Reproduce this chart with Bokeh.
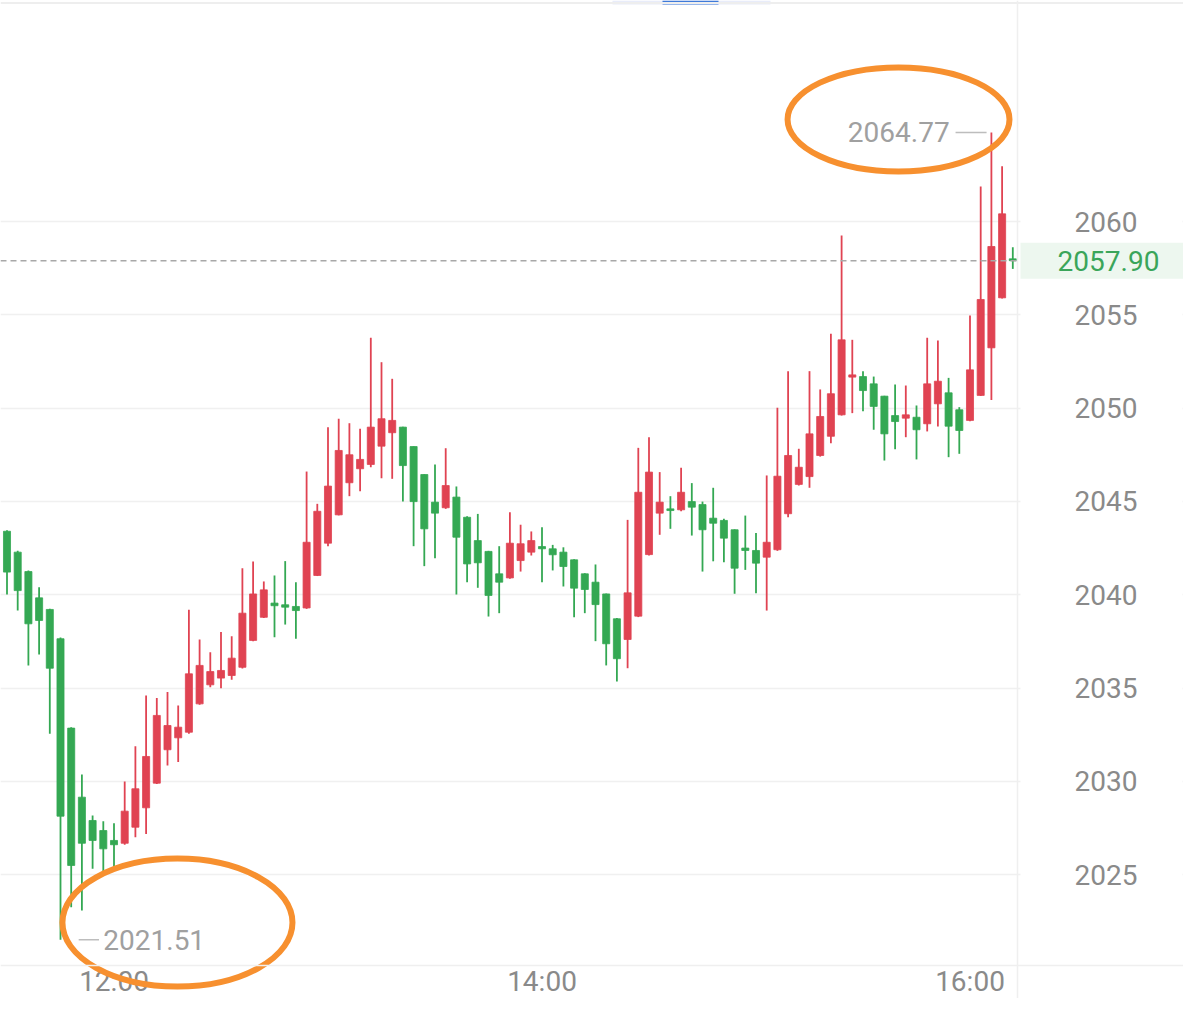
import numpy as np
import pandas as pd
from bokeh.plotting import figure
from bokeh.models import ColumnDataSource, Range1d, FixedTicker, Span
from bokeh.core.properties import value
from bokeh.embed import file_html
from bokeh.resources import INLINE

# ---- data (3-minute candles, 11:30 - 16:12) ----
times = [t.strftime("%H:%M") for t in pd.date_range("2024-01-01 11:30", periods=95, freq="3min")]

opens = [2043.40, 2042.28, 2041.24, 2039.83, 2039.21, 2037.64, 2032.85, 2029.15, 2027.90, 2027.36,
         2026.83, 2026.68, 2027.54, 2028.58, 2029.90, 2031.69, 2032.33, 2032.63, 2034.15, 2035.17,
         2035.53, 2035.67, 2036.11, 2037.55, 2038.79, 2039.55, 2039.46, 2039.37, 2039.29, 2041.03,
         2042.76, 2044.28, 2046.00, 2046.75, 2046.98, 2047.96, 2048.68, 2048.98, 2047.94, 2046.44,
         2044.96, 2044.66, 2045.23, 2044.15, 2042.90, 2042.32, 2041.12, 2040.90, 2041.83, 2042.28,
         2042.58, 2042.46, 2042.28, 2041.87, 2041.12, 2040.67, 2040.04, 2038.71, 2037.60, 2038.85,
         2042.15, 2044.37, 2044.60, 2044.55, 2044.99, 2044.83, 2044.10, 2043.98, 2043.48, 2042.50,
         2042.37, 2042.01, 2042.41, 2044.34, 2045.91, 2046.33, 2047.46, 2048.49, 2049.64, 2051.66,
         2051.69, 2051.30, 2050.64, 2049.60, 2049.46, 2049.51, 2049.16, 2050.23, 2050.82, 2049.91,
         2049.34, 2050.68, 2053.23, 2055.91, 2058.00]
closes = [2041.21, 2040.22, 2038.44, 2038.62, 2036.06, 2028.13, 2025.49, 2026.68, 2026.83, 2026.38,
          2026.60, 2028.40, 2029.60, 2031.33, 2033.53, 2032.99, 2032.90, 2035.76, 2036.21, 2035.88,
          2035.94, 2036.60, 2039.01, 2040.04, 2040.26, 2039.41, 2039.33, 2039.15, 2042.81, 2044.47,
          2045.82, 2047.73, 2047.50, 2047.25, 2048.98, 2049.43, 2049.34, 2046.92, 2044.99, 2043.53,
          2044.37, 2045.85, 2043.08, 2041.65, 2041.71, 2039.96, 2040.67, 2042.76, 2042.73, 2042.90,
          2042.46, 2042.14, 2041.51, 2040.35, 2040.28, 2039.47, 2037.37, 2036.57, 2040.10, 2045.49,
          2046.57, 2044.96, 2044.51, 2045.49, 2044.69, 2043.48, 2043.83, 2043.03, 2041.42, 2042.37,
          2041.69, 2042.81, 2046.35, 2047.46, 2046.83, 2048.62, 2049.55, 2050.77, 2053.66, 2051.78,
          2050.94, 2050.09, 2048.62, 2049.28, 2049.64, 2048.84, 2051.30, 2051.44, 2049.03, 2048.80,
          2052.05, 2055.82, 2058.66, 2060.41, 2057.90]
highs = [2043.45, 2042.35, 2041.30, 2040.40, 2039.25, 2037.70, 2032.90, 2030.37, 2028.17, 2027.86,
         2027.75, 2029.99, 2031.88, 2034.60, 2034.47, 2034.78, 2034.06, 2039.19, 2037.60, 2036.92,
         2038.00, 2037.78, 2041.42, 2041.78, 2040.71, 2041.03, 2041.80, 2040.67, 2046.60, 2044.87,
         2048.98, 2049.43, 2049.19, 2048.89, 2053.77, 2052.46, 2051.57, 2049.00, 2047.95, 2046.45,
         2046.98, 2047.85, 2045.80, 2044.20, 2044.33, 2042.35, 2042.60, 2044.42, 2043.75, 2043.39,
         2043.62, 2042.67, 2042.54, 2041.90, 2041.15, 2041.62, 2040.06, 2038.75, 2044.01, 2047.87,
         2048.44, 2046.57, 2045.28, 2046.80, 2045.98, 2044.99, 2045.73, 2044.07, 2043.50, 2044.24,
         2043.30, 2046.39, 2050.02, 2051.98, 2047.82, 2051.98, 2051.00, 2053.98, 2059.25, 2053.66,
         2051.98, 2051.69, 2050.66, 2051.26, 2051.21, 2050.14, 2053.77, 2053.62, 2051.62, 2050.05,
         2054.96, 2061.88, 2064.77, 2062.96, 2058.62]
lows = [2040.01, 2039.15, 2036.21, 2036.80, 2032.55, 2021.51, 2023.25, 2023.08, 2025.31, 2025.04,
        2025.40, 2026.60, 2027.00, 2027.18, 2029.85, 2030.85, 2031.03, 2032.55, 2034.10, 2035.04,
        2034.99, 2035.44, 2036.05, 2037.50, 2038.75, 2037.72, 2038.40, 2037.64, 2039.24, 2041.00,
        2042.60, 2044.25, 2045.28, 2045.55, 2046.83, 2046.24, 2046.21, 2044.99, 2042.60, 2041.53,
        2041.96, 2044.60, 2040.01, 2040.67, 2040.37, 2038.83, 2039.01, 2040.85, 2041.24, 2042.10,
        2040.67, 2041.30, 2040.44, 2038.79, 2039.01, 2037.51, 2036.21, 2035.35, 2036.06, 2038.80,
        2042.10, 2043.21, 2043.53, 2044.47, 2043.17, 2041.24, 2041.79, 2041.74, 2040.05, 2041.33,
        2040.08, 2039.15, 2042.35, 2044.15, 2045.85, 2045.73, 2047.40, 2048.12, 2049.60, 2049.73,
        2049.83, 2048.84, 2047.19, 2047.80, 2048.44, 2047.25, 2048.75, 2049.01, 2047.37, 2047.55,
        2049.30, 2050.65, 2050.44, 2055.88, 2057.46]

y_ticks = [2025, 2030, 2035, 2040, 2045, 2050, 2055, 2060]
x_tick_labels = ["12:00", "14:00", "16:00"]
last_price = closes[-1]

# ---- styling / layout ----
RED = "#e04352"
GREEN = "#34a853"
GRAY_TXT = "#8a8a8a"
FONT = value("Roboto")
W, H = 1183, 998
PX_PER_BAR = 10.7          # horizontal scale (px per candle)
PX_PER_UNIT = 18.66        # vertical scale (px per price unit)
X0_PX = 113.5 - 10 * PX_PER_BAR   # pixel of candle index 0
Y2060_PX = 221.0           # pixel of price 2060

def xd(px):   # screen x -> data x
    return (px - X0_PX) / PX_PER_BAR

def yd(py):   # screen y -> data y
    return 2060 - (py - Y2060_PX) / PX_PER_UNIT

n = len(times)
idx = np.arange(n)
o = np.array(opens); c = np.array(closes); h = np.array(highs); l = np.array(lows)
up = c >= o
colors = [RED if u else GREEN for u in up]
src = ColumnDataSource(dict(x=idx, top=np.maximum(o, c), bottom=np.minimum(o, c),
                            high=h, low=l, color=colors))

p = figure(width=W, height=H, output_backend="svg", toolbar_location=None,
           x_range=Range1d(xd(0), xd(W)), y_range=Range1d(yd(H), yd(0)),
           x_axis_location=None, y_axis_location=None,
           min_border_left=0, min_border_top=0, min_border_right=0, min_border_bottom=0)
p.outline_line_color = None
p.background_fill_color = "white"
p.border_fill_color = "white"

# grid (horizontal only)
p.xgrid.visible = False
p.ygrid.ticker = FixedTicker(ticks=y_ticks)
p.ygrid.grid_line_color = "#f0f0f0"
p.ygrid.grid_line_width = 1.5

# frame lines: top strip, axis separator, bottom axis line
p.add_layout(Span(location=yd(2.5), dimension="width", line_color="#eeeeee", line_width=2))
p.add_layout(Span(location=xd(1017), dimension="height", line_color="#efefef", line_width=1.5))
p.add_layout(Span(location=yd(965), dimension="width", line_color="#efefef", line_width=1.5))
p.quad(left=[xd(612)], right=[xd(770)], top=[yd(0)], bottom=[yd(4)],
       fill_color="#e8ecfa", line_color=None)
p.quad(left=[xd(662)], right=[xd(718)], top=[yd(0)], bottom=[yd(4)],
       fill_color="#3f7ad9", line_color=None)

# candles
p.segment(x0="x", y0="low", x1="x", y1="high", color="color", line_width=1.8, source=src)
p.vbar(x="x", top="top", bottom="bottom", width=0.66, fill_color="color",
       line_color="color", line_width=0.8, source=src)

# y tick labels (right side) on white boxes
p.rect(x=[xd(1101)] * len(y_ticks), y=y_ticks, width=162, height=30,
       width_units="screen", height_units="screen", fill_color="white", line_color=None)
p.text(x=[xd(1074)] * len(y_ticks), y=y_ticks, text=[str(t) for t in y_ticks],
       text_align="left", text_baseline="middle", text_font=FONT,
       text_font_size="28px", text_color=GRAY_TXT)

# time labels (bottom)
tick_pos = [times.index(t) for t in x_tick_labels]
p.text(x=tick_pos, y=[yd(981)] * len(tick_pos), text=x_tick_labels,
       text_align="center", text_baseline="middle", text_font=FONT,
       text_font_size="28px", text_color=GRAY_TXT)

# last price dashed line and label
p.segment(x0=[xd(0)], y0=[last_price], x1=[xd(1020)], y1=[last_price],
          line_color="#a8a8a8", line_dash="6 4", line_width=1.5)
p.rect(x=[xd(1110)], y=[last_price], width=180, height=36,
       width_units="screen", height_units="screen", fill_color="#edf7ef", line_color=None)
p.text(x=[xd(1108)], y=[last_price], text=[f"{last_price:.2f}"], text_align="center",
       text_baseline="middle", text_font=FONT, text_font_size="28px", text_color="#3aa55a")

# max / min markers
imax = int(np.argmax(h)); imin = int(np.argmin(l))
p.segment(x0=[imax - 3.35], y0=[h[imax]], x1=[imax - 0.45], y1=[h[imax]],
          line_color="#bdbdbd", line_width=1.5)
p.text(x=[imax - 3.9], y=[h[imax]], text=[f"{h[imax]:.2f}"], text_align="right",
       text_baseline="middle", text_font=FONT, text_font_size="28px",
       text_color="#a0a0a0")
p.segment(x0=[imin + 1.7], y0=[l[imin]], x1=[imin + 3.6], y1=[l[imin]],
          line_color="#bdbdbd", line_width=1.5)
p.text(x=[imin + 4.0], y=[l[imin]], text=[f"{l[imin]:.2f}"], text_align="left",
       text_baseline="middle", text_font=FONT, text_font_size="28px",
       text_color="#a0a0a0")

# orange hand-drawn ellipses around the extremes
p.ellipse(x=[imax - 8.68, imin + 10.93], y=[h[imax] + 0.70, l[imin] + 0.92],
          width=[20.74, 21.5], height=[5.58, 6.86], fill_color=None,
          line_color="#f7902f", line_width=6)

open("out.html", "w").write(file_html(p, INLINE))
